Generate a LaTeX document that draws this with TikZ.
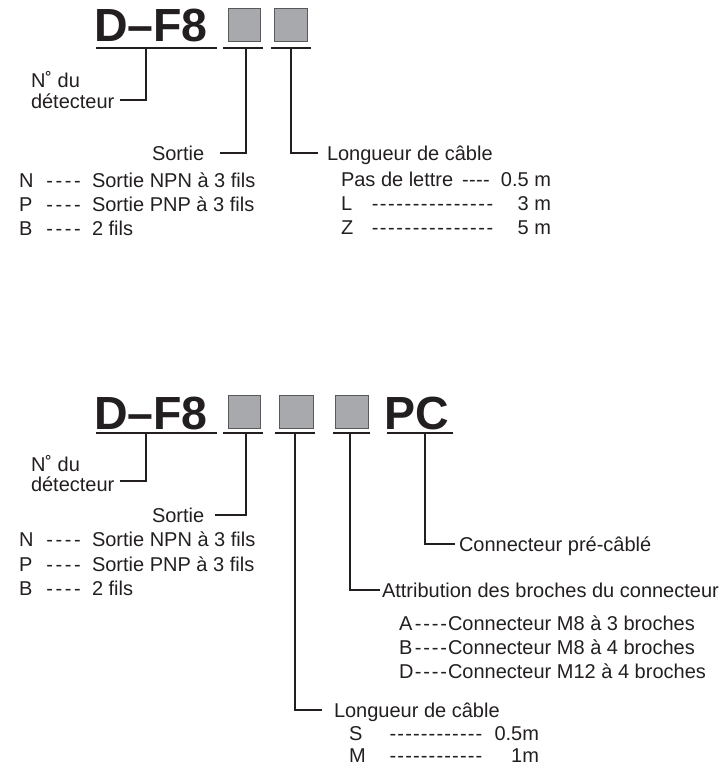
\documentclass[tikz,border=0pt]{standalone}
\usepackage{fontspec}
\setmainfont{Liberation Sans}
\definecolor{ink}{HTML}{231F20}
\definecolor{boxfill}{HTML}{A7A9AC}
\definecolor{boxline}{HTML}{58595B}
\newcommand{\dotrule}[2]{\hbox to #1{\xleaders\hbox to #2{\hss-\hss}\hfil}}
\begin{document}
\begin{tikzpicture}[x=1pt,y=-1pt,
  every node/.style={inner sep=0pt, outer sep=0pt, text=ink, font=\fontsize{20}{24}\selectfont},
  lbl/.style={anchor=base west},
  val/.style={anchor=base east},
  title/.style={anchor=base west, font=\fontsize{46.5}{50}\selectfont\bfseries},
  code/.style={draw=boxline, fill=boxfill, line width=1pt, anchor=north west},
  conn/.style={draw=ink, line width=1.3pt}]
\useasboundingbox (0,0) rectangle (722,768);

% ---------------- top diagram ----------------
\node[title] (t1) at (94,42) {D–F8};
\node[code, minimum width=32pt, minimum height=33pt] (t1a) at (228,9) {};
\node[code, minimum width=33pt, minimum height=33pt] (t1b) at (274,9) {};

\coordinate (u1a) at (96,48);  \coordinate (u1b) at (217,48);
\coordinate (u2a) at (223,48); \coordinate (u2b) at (263,48);
\coordinate (u3a) at (271,48); \coordinate (u3b) at (311,48);
\draw[conn] (u1a) -- (u1b);
\draw[conn] (u2a) -- (u2b);
\draw[conn] (u3a) -- (u3b);

\node[lbl] (tn) at (31,88) {N˚ du};
\node[lbl] (tdet) at (31,108) {détecteur};
\coordinate (tdetend) at (120,100);
\draw[conn] (146,48) |- (tdetend);

\node[lbl] (tsort) at (152,160) {Sortie};
\coordinate (tsortend) at (220,153);
\draw[conn] (246,48) |- (tsortend);

\node[lbl] (tlong) at (327,160) {Longueur de câble};
\coordinate (tlongend) at (318,153);
\draw[conn] (291,48) |- (tlongend);

\node[lbl] (tN) at (19,187) {N};
\node[lbl] (tNd) at (45,187) {\dotrule{37pt}{9.25pt}};
\node[lbl] (tNt) at (92,187) {Sortie NPN à 3 fils};
\node[lbl] (tP) at (19,211) {P};
\node[lbl] (tPd) at (45,211) {\dotrule{37pt}{9.25pt}};
\node[lbl] (tPt) at (92,211) {Sortie PNP à 3 fils};
\node[lbl] (tB) at (19,235) {B};
\node[lbl] (tBd) at (45,235) {\dotrule{37pt}{9.25pt}};
\node[lbl] (tBt) at (92,235) {2 fils};

\node[lbl] (tpas) at (341,186) {Pas de lettre};
\node[lbl] (tpasd) at (462,186) {\dotrule{28pt}{7pt}};
\node[val] (tpasv) at (551,186) {0.5 m};
\node[lbl] (tL) at (341,210) {L};
\node[lbl] (tLd) at (371,210) {\dotrule{123pt}{8.2pt}};
\node[val] (tLv) at (551,210) {3 m};
\node[lbl] (tZ) at (341,234) {Z};
\node[lbl] (tZd) at (371,234) {\dotrule{123pt}{8.2pt}};
\node[val] (tZv) at (551,234) {5 m};

% ---------------- bottom diagram ----------------
\node[title] (b1) at (94,429) {D–F8};
\node[code, minimum width=32pt, minimum height=33pt] (b1a) at (228,395) {};
\node[code, minimum width=34pt, minimum height=33pt] (b1b) at (279,395) {};
\node[code, minimum width=33pt, minimum height=33pt] (b1c) at (335,395) {};
\node[title] (bpc) at (384,429) {PC};

\draw[conn] (96,433) -- (217,433);
\draw[conn] (223,433) -- (263,433);
\draw[conn] (275,433) -- (315,433);
\draw[conn] (333,433) -- (370,433);
\draw[conn] (387,433) -- (453,433);

\node[lbl] (bn) at (31,471) {N˚ du};
\node[lbl] (bdet) at (31,491) {détecteur};
\coordinate (bdetend) at (120,481);
\draw[conn] (146,433) |- (bdetend);

\node[lbl] (bsort) at (152,522) {Sortie};
\coordinate (bsortend) at (215,515);
\draw[conn] (246,433) |- (bsortend);

\node[lbl] (bN) at (19,546) {N};
\node[lbl] (bNd) at (45,546) {\dotrule{37pt}{9.25pt}};
\node[lbl] (bNt) at (92,546) {Sortie NPN à 3 fils};
\node[lbl] (bP) at (19,571) {P};
\node[lbl] (bPd) at (45,571) {\dotrule{37pt}{9.25pt}};
\node[lbl] (bPt) at (92,571) {Sortie PNP à 3 fils};
\node[lbl] (bB) at (19,595) {B};
\node[lbl] (bBd) at (45,595) {\dotrule{37pt}{9.25pt}};
\node[lbl] (bBt) at (92,595) {2 fils};

\node[lbl] (bpre) at (459,551) {Connecteur pré-câblé};
\coordinate (bpreend) at (455,544);
\draw[conn] (425,433) |- (bpreend);

\node[lbl] (batt) at (382,597) {Attribution des broches du connecteur};
\coordinate (battend) at (380,590);
\draw[conn] (350,433) |- (battend);

\node[lbl] (bA) at (399,630) {A};
\node[lbl] (bAd) at (414,630) {\dotrule{34pt}{8.5pt}};
\node[lbl] (bAt) at (448,630) {Connecteur M8 à 3 broches};
\node[lbl] (bBB) at (399,654) {B};
\node[lbl] (bBBd) at (414,654) {\dotrule{34pt}{8.5pt}};
\node[lbl] (bBBt) at (448,654) {Connecteur M8 à 4 broches};
\node[lbl] (bD) at (399,678) {D};
\node[lbl] (bDd) at (414,678) {\dotrule{34pt}{8.5pt}};
\node[lbl] (bDt) at (448,678) {Connecteur M12 à 4 broches};

\node[lbl] (blong) at (334,717) {Longueur de câble};
\coordinate (blongend) at (322,710);
\draw[conn] (295,433) |- (blongend);

\node[lbl] (bS) at (349,740) {S};
\node[lbl] (bSd) at (389,740) {\dotrule{94pt}{7.8pt}};
\node[val] (bSv) at (539,740) {0.5m};
\node[lbl] (bM) at (349,762) {M};
\node[lbl] (bMd) at (389,762) {\dotrule{94pt}{7.8pt}};
\node[val] (bMv) at (539,762) {1m};
\end{tikzpicture}
\end{document}
